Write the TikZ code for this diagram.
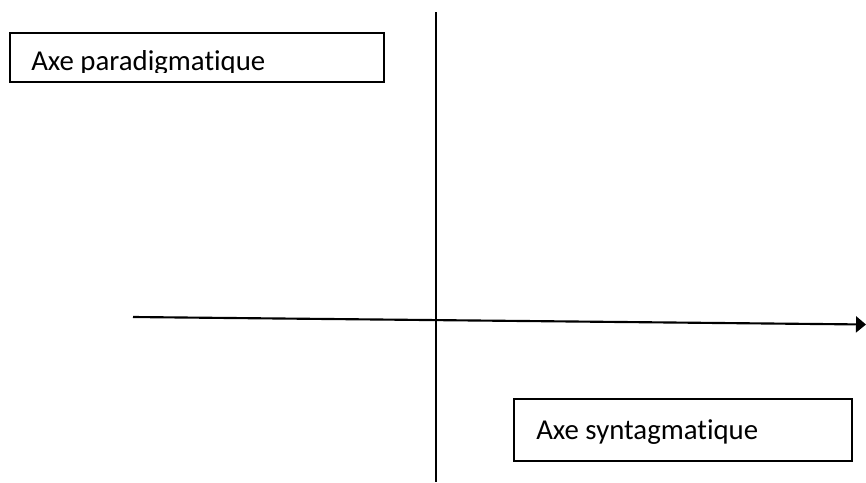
\documentclass[tikz,border=0pt]{standalone}
\usepackage{fontspec}
\setmainfont{Carlito}[Ligatures=NoCommon]
\usetikzlibrary{arrows.meta}
\begin{document}
\begin{tikzpicture}[x=0.75pt,y=-0.75pt,
  boxstyle/.style={draw=black,line width=1.5pt,rectangle,inner sep=0pt},
  labelstyle/.style={inner sep=0pt,anchor=base west,font=\fontsize{21.6}{26}\selectfont},
  axisline/.style={draw=black,line width=1.6pt}]
\useasboundingbox[fill=white] (0,0) rectangle (866,482);
% boxes
\node[boxstyle,minimum width=280.5pt,minimum height=37pt] (box1) at (197,57.25) {};
\node[boxstyle,minimum width=253.5pt,minimum height=46.5pt] (box2) at (683,430) {};
% labels
\begin{scope}
  \clip (11,33) rectangle (383,72);
  \node[labelstyle] (lab1) at (31,70.5) {Axe paradigmatique};
\end{scope}
\node[labelstyle] (lab2) at (536,439) {Axe syntagmatique};
% axes
\coordinate (vtop) at (436,12);
\coordinate (vbot) at (436,482);
\coordinate (hleft) at (133,317);
\coordinate (hright) at (866,324.5);
\draw[axisline] (vtop) -- (vbot);
\draw[axisline,-{Triangle[length=7.5pt,width=12pt]}] (hleft) -- (hright);
\end{tikzpicture}
\end{document}
